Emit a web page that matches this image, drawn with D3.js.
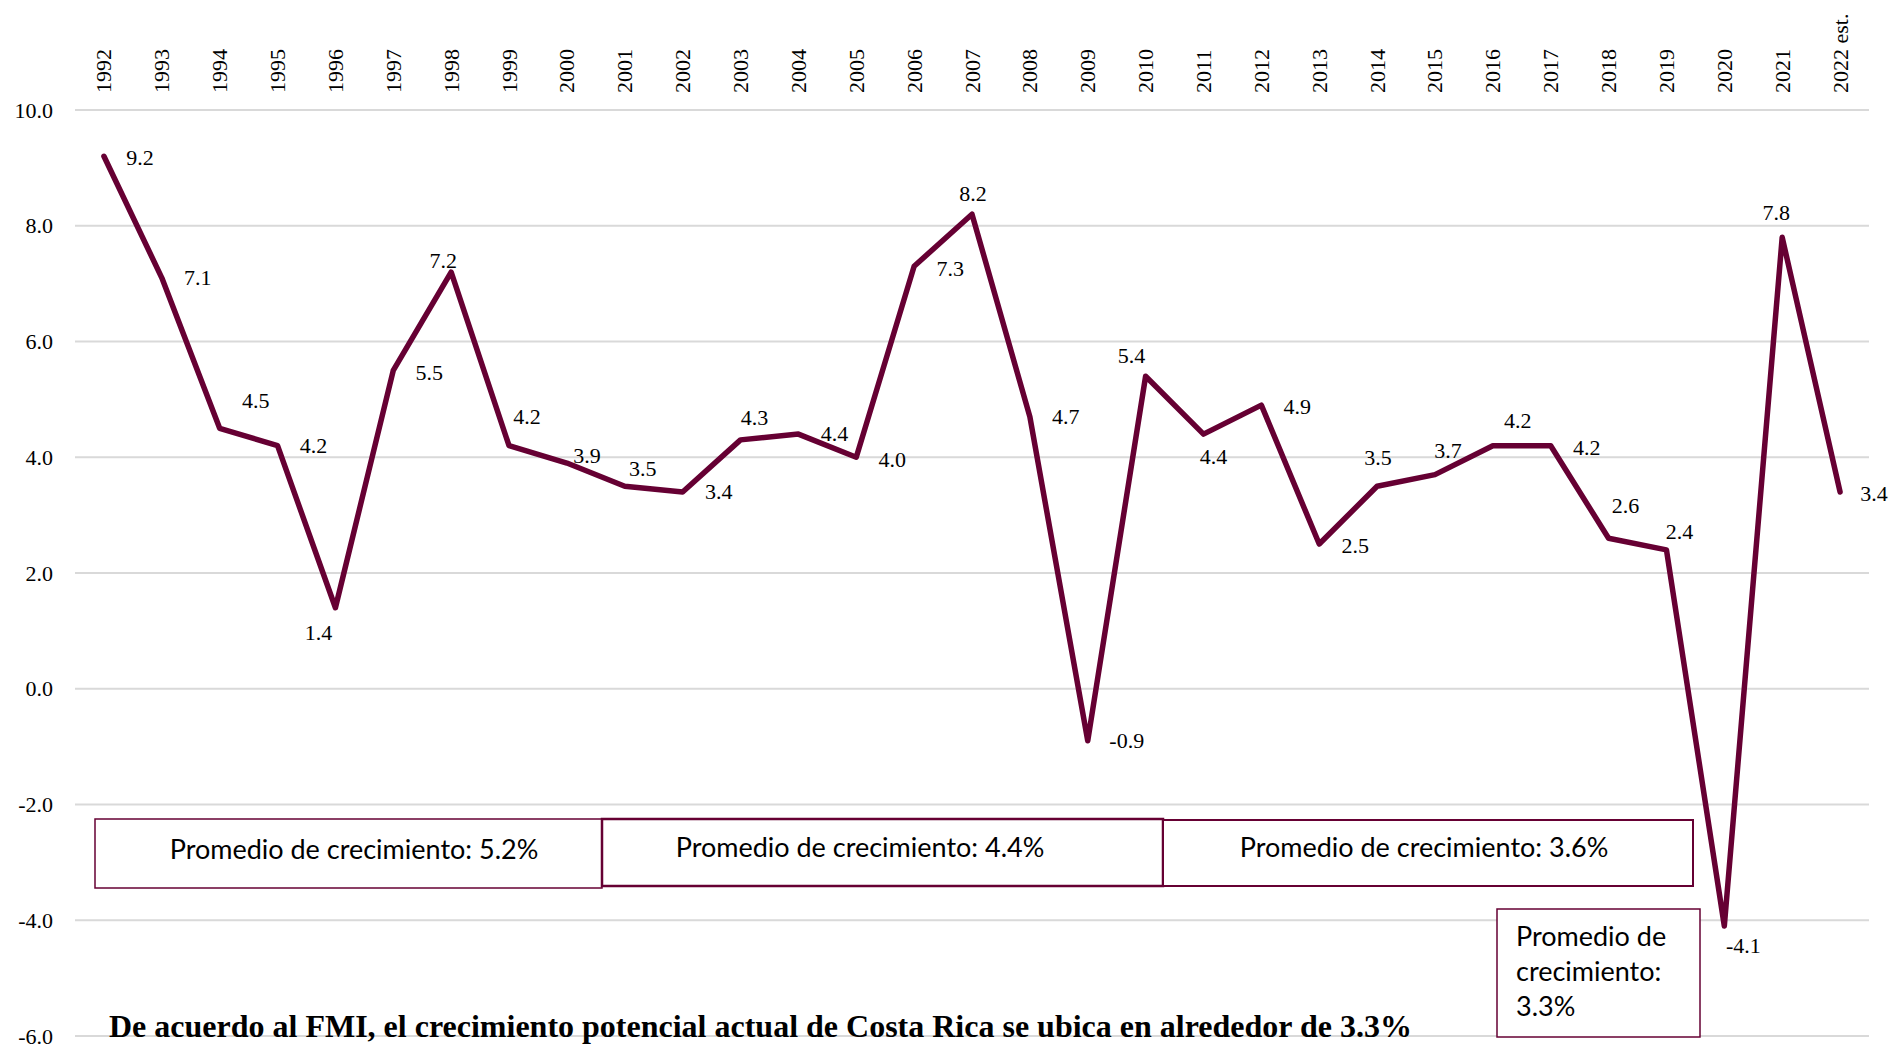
<!DOCTYPE html>
<html>
<head>
<meta charset="utf-8">
<script src="https://cdn.jsdelivr.net/npm/d3@7"></script>
<style>
  html, body { margin: 0; padding: 0; background: #fff; }
  svg { display: block; }
</style>
</head>
<body>
<svg id="chart" width="1893" height="1046"></svg>
<script>
// ---- data ----
const years = ["1992","1993","1994","1995","1996","1997","1998","1999","2000","2001",
  "2002","2003","2004","2005","2006","2007","2008","2009","2010","2011",
  "2012","2013","2014","2015","2016","2017","2018","2019","2020","2021","2022 est."];
const growth = [9.2,7.1,4.5,4.2,1.4,5.5,7.2,4.2,3.9,3.5,
  3.4,4.3,4.4,4.0,7.3,8.2,4.7,-0.9,5.4,4.4,
  4.9,2.5,3.5,3.7,4.2,4.2,2.6,2.4,-4.1,7.8,3.4];
const yTicks = [-6,-4,-2,0,2,4,6,8,10];
const boxTexts = ["Promedio de crecimiento: 5.2%","Promedio de crecimiento: 4.4%","Promedio de crecimiento: 3.6%"];
const lastBoxLines = ["Promedio de","crecimiento:","3.3%"];
const note = "De acuerdo al FMI, el crecimiento potencial actual de Costa Rica se ubica en alrededor de 3.3%";

// ---- layout (label offsets in px, not data) ----
const labelOffsets = [[36,1],[36,0],[36,-28],[36,0],[-17,25],[36,2],[-8,-12],[18,-29],[20,-8],[18,-18],
  [36,0],[14,-22],[36,-1],[36,2],[36,2],[1,-21],[36,0],[39,0],[-14,-21],[10,22],
  [36,1],[36,1],[1,-29],[13,-24],[25,-25],[36,2],[17,-33],[13,-18],[19,19],[-6,-25],[34,2]];
const boxes = [
  {x0: 95, x1: 602, y0: 819, y1: 888, sw: 1.5, tx: 354, ty: 848},
  {x0: 602, x1: 1163, y0: 819, y1: 886, sw: 2.5, tx: 860, ty: 846},
  {x0: 1163, x1: 1693, y0: 820, y1: 886, sw: 2, tx: 1424, ty: 846}
];
const COLOR = "#660033";
const fmt = v => d3.format(".1f")(v).replace("\u2212", "-");

const svg = d3.select("#chart");
const x = d3.scaleBand().domain(years).range([75, 1869]).padding(0);
const y = d3.scaleLinear().domain([-6, 10]).range([1036, 110]);
const cx = d => x(d) + x.bandwidth() / 2;

// gridlines
svg.append("g").selectAll("line").data(yTicks).join("line")
  .attr("x1", 75).attr("x2", 1869)
  .attr("y1", d => y(d)).attr("y2", d => y(d))
  .attr("stroke", "#d9d9d9").attr("stroke-width", 2);

// y axis labels
const yAxis = svg.append("g").attr("transform", "translate(62,0)")
  .call(d3.axisLeft(y).tickValues(yTicks).tickFormat(fmt).tickSize(0).tickPadding(9));
yAxis.select(".domain").remove();
yAxis.selectAll("text").attr("font-family", "'Liberation Serif', 'Times New Roman', serif")
  .attr("font-size", 22).attr("fill", "#000");

// x labels (top, rotated)
svg.append("g").selectAll("text").data(years).join("text")
  .attr("transform", d => `translate(${cx(d)},93) rotate(-90)`)
  .attr("text-anchor", "start").attr("dominant-baseline", "central")
  .attr("font-family", "'Liberation Serif', 'Times New Roman', serif")
  .attr("font-size", 22).attr("fill", "#000")
  .text(d => d);

// line
const pts = years.map((yr, i) => ({yr, v: growth[i], i}));
svg.append("path").datum(pts)
  .attr("fill", "none").attr("stroke", COLOR).attr("stroke-width", 5.5)
  .attr("stroke-linejoin", "round").attr("stroke-linecap", "round")
  .attr("d", d3.line().x(d => cx(d.yr)).y(d => y(d.v)));

// data labels
svg.append("g").selectAll("text").data(pts).join("text")
  .attr("x", d => cx(d.yr) + labelOffsets[d.i][0])
  .attr("y", d => y(d.v) + labelOffsets[d.i][1])
  .attr("text-anchor", "middle").attr("dominant-baseline", "central")
  .attr("font-family", "'Liberation Serif', 'Times New Roman', serif")
  .attr("font-size", 22).attr("fill", "#000")
  .text(d => fmt(d.v));

// average boxes
const bg = svg.append("g");
boxes.forEach((b, i) => {
  bg.append("rect").attr("x", b.x0).attr("y", b.y0)
    .attr("width", b.x1 - b.x0).attr("height", b.y1 - b.y0)
    .attr("fill", "#fff").attr("stroke", COLOR).attr("stroke-width", b.sw);
  bg.append("text").attr("x", b.tx).attr("y", b.ty)
    .attr("text-anchor", "middle").attr("dominant-baseline", "central")
    .attr("font-family", "Lato, 'Open Sans', sans-serif").attr("font-size", 27).attr("fill", "#000")
    .text(boxTexts[i]);
});
bg.append("rect").attr("x", 1497).attr("y", 909).attr("width", 203).attr("height", 128)
  .attr("fill", "#fff").attr("stroke", COLOR).attr("stroke-width", 1.5);
bg.append("g").selectAll("text").data(lastBoxLines).join("text")
  .attr("x", 1516).attr("y", (d, i) => 946 + i * 35)
  .attr("font-family", "Lato, 'Open Sans', sans-serif").attr("font-size", 27).attr("fill", "#000")
  .text(d => d);

// note
svg.append("text").attr("x", 109).attr("y", 1037)
  .attr("font-family", "'Liberation Serif', 'Times New Roman', serif")
  .attr("font-weight", "bold").attr("font-size", 32).attr("fill", "#000")
  .text(note);
</script>
</body>
</html>
